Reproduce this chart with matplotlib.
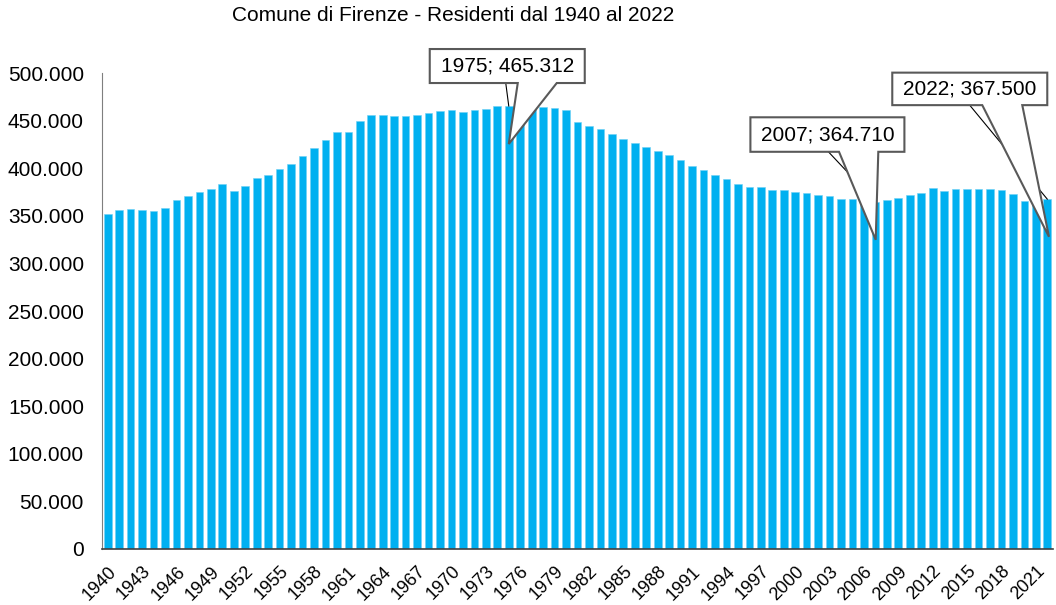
import numpy as np
import matplotlib
matplotlib.use('Agg')
from matplotlib import pyplot as plt
from matplotlib.patches import Polygon
from matplotlib.ticker import FuncFormatter

plt.rcParams['font.family'] = ['Liberation Sans', 'DejaVu Sans']

years = list(range(1940, 2023))
residents = [
    351600, 355800, 357500, 356400, 355400, 358500, 366600, 370800, 374700, 378200,  # 1940-49
    383400, 375700, 381000, 389400, 393200, 399200, 404700, 412800, 421500, 430000,  # 1950-59
    437800, 438100, 449300, 455900, 456200, 455100, 455100, 455900, 458300, 459800,  # 1960-69
    461500, 459000, 461100, 461900, 465000, 465312, 464800, 464700, 464600, 463200,  # 1970-79
    461500, 448500, 444700, 441200, 436200, 431000, 426100, 421900, 418000, 413600,  # 1980-89
    408900, 402600, 398100, 393200, 388700, 383700, 380300, 379900, 377100, 377100,  # 1990-99
    374700, 373600, 371500, 370800, 367600, 367300, 366000, 364710, 366300, 369000,  # 2000-09
    372200, 373600, 378900, 376100, 377800, 378200, 377800, 377800, 377100, 372900,  # 2010-19
    365900, 361600, 367500,                                                          # 2020-22
]
tick_years = years[::3]

W, H = 1056, 605
fig = plt.figure(figsize=(W / 100, H / 100), dpi=100)
ax = fig.add_axes([102 / W, 1 - 549 / H, (1053 - 102) / W, (549 - 73) / H])

x = np.arange(len(years))
ax.bar(x, residents, width=0.67, color='#00B0F0', edgecolor='#6FD0F5', linewidth=0.4, zorder=2)
ax.set_xlim(-0.5, len(years) - 0.5)
ax.set_ylim(0, 500000)
ax.set_yticks(np.arange(0, 500001, 50000))
ax.yaxis.set_major_formatter(FuncFormatter(lambda v, p: f"{int(v):,}".replace(",", ".")))
ax.set_xticks([years.index(y) for y in tick_years])
ax.set_xticklabels([str(y) for y in tick_years], rotation=45, ha='right', va='top',
                   rotation_mode='anchor', fontsize=13)
ax.tick_params(axis='y', length=0, pad=13, labelsize=15)
ax.tick_params(axis='x', length=0, pad=10)
for s in ['top', 'right']:
    ax.spines[s].set_visible(False)
ax.spines['left'].set_color('#7f7f7f')
ax.spines['bottom'].set_color('#404040')
ax.spines['bottom'].set_linewidth(1.2)

fig.text(453 / W, 1 - 20.7 / H, 'Comune di Firenze - Residenti dal 1940 al 2022',
         ha='center', va='baseline', fontsize=15)


# callout: offsets in pixels (image y downwards) from the bar top
def callout(year, box, wedge, tip, lead):
    i = years.index(year)
    v = residents[i]
    px, py = ax.transData.transform((i, v))

    def P(dx, dy):
        return (px + dx, py - dy)
    l, r, t, b = box
    lead_pts = [P(lead, b), (px, py)]
    fig.lines.append(plt.Line2D([p[0] for p in lead_pts], [p[1] for p in lead_pts],
                                transform=None, color='black', lw=0.8, zorder=5))
    pts = [P(l, t), P(r, t), P(r, b), P(wedge[1], b), P(tip[0], tip[1]),
           P(wedge[0], b), P(l, b)]
    fig.patches.append(Polygon(pts, closed=True, transform=None, facecolor='white',
                               edgecolor='#595959', lw=1.5, zorder=6))
    label = f"{year}; {v:,}".replace(",", ".")
    cx, cy = P((l + r) / 2, (t + b) / 2)
    fig.text(cx, cy, label, transform=None, ha='center', va='center',
             fontsize=15, zorder=7)


callout(1975, (-79, 76, -57, -23), (9, 48), (0, 38), -3)
callout(2007, (-125, 29, -84.5, -50), (-36.4, 2.9), (0.3, 38), -47)
callout(2022, (-155, 0, -126.5, -94), (-65, -25), (1.7, 37.6), -77.6)

fig.savefig('out.png', dpi=100)
